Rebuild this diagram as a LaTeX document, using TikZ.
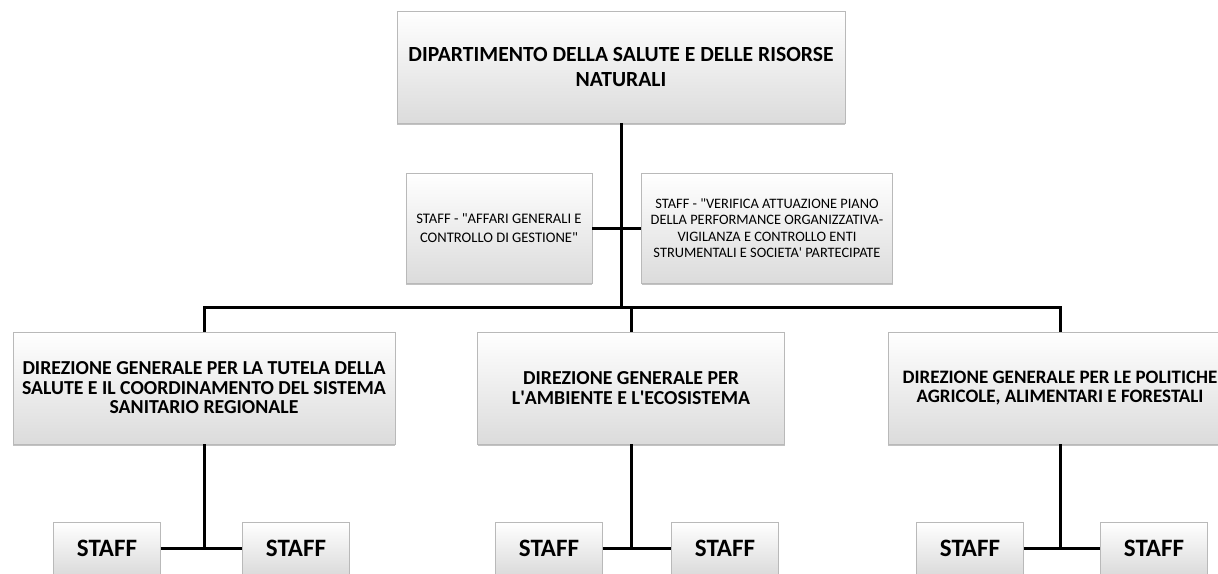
\documentclass[tikz,border=0pt]{standalone}
\usepackage{fontspec}
\setmainfont{Carlito}
\usetikzlibrary{shadows}
\begin{document}
\begin{tikzpicture}[x=1pt,y=-1pt,
wire/.style={line width=3pt,black},
orgblock/.style={rectangle,draw=gray!55,line width=0.6pt,top color=white,bottom color=gray!28,
  drop shadow={shadow xshift=0pt,shadow yshift=-2pt,fill=gray!80,opacity=.6},
  align=center,inner sep=4pt,font=\bfseries},
dirblock/.style={orgblock,minimum height=112pt,font=\bfseries\fontsize{19.8}{19.5}\selectfont},
staffblock/.style={orgblock,minimum height=110pt},
smallstaff/.style={orgblock,minimum width=107pt,minimum height=52pt,font=\bfseries\fontsize{25}{28}\selectfont}]
\useasboundingbox (0,0) rectangle (1218,573);
\clip (0,0) rectangle (1218,573);
% top level
\draw (621,67) node[orgblock,minimum width=448pt,minimum height=112pt,font=\bfseries\fontsize{21.6}{25}\selectfont] (dip)
  {DIPARTIMENTO DELLA SALUTE E DELLE RISORSE\\NATURALI};
% staff of the department
\draw (499,228) node[staffblock,minimum width=186pt,font=\fontsize{14.6}{19}\selectfont] (stA)
  {STAFF - \textquotedbl AFFARI GENERALI E\\CONTROLLO DI GESTIONE\textquotedbl};
\draw (767,228) node[staffblock,minimum width=251pt,font=\fontsize{14.4}{16.5}\selectfont] (stB)
  {STAFF - \textquotedbl VERIFICA ATTUAZIONE PIANO\\DELLA PERFORMANCE ORGANIZZATIVA-\\VIGILANZA E CONTROLLO ENTI\\STRUMENTALI E SOCIETA\textquotesingle{} PARTECIPATE};
% directorates
\draw (204,388) node[dirblock,minimum width=382pt] (dirA)
  {DIREZIONE GENERALE PER LA TUTELA DELLA\\SALUTE E IL COORDINAMENTO DEL SISTEMA\\SANITARIO REGIONALE};
\draw (631,388) node[dirblock,minimum width=307pt] (dirB)
  {DIREZIONE GENERALE PER\\L\textquotesingle AMBIENTE E L\textquotesingle ECOSISTEMA};
\draw (1060,388) node[dirblock,minimum width=344pt,font=\bfseries\fontsize{19}{19.5}\selectfont] (dirC)
  {DIREZIONE GENERALE PER LE POLITICHE\\AGRICOLE, ALIMENTARI E FORESTALI};
% staff of the directorates
\draw (107,548) node[smallstaff] (sA1) {STAFF};
\draw (296,548) node[smallstaff] (sA2) {STAFF};
\draw (549,548) node[smallstaff] (sB1) {STAFF};
\draw (725,548) node[smallstaff] (sB2) {STAFF};
\draw (970,548) node[smallstaff] (sC1) {STAFF};
\draw (1154,548) node[smallstaff] (sC2) {STAFF};
\coordinate (bus) at (621,307);
\draw[wire] (dip.south) -- (bus);
\draw[wire] (stA.east) -- (stB.west);
\draw[wire] (dirA.north) |- (bus) -| (dirC.north);
\draw[wire] (dirB.north) -- (dirB.north |- bus);
\draw[wire] (dirA.south) -- (dirA.south |- sA1.east);
\draw[wire] (sA1.east) -- (sA2.west);
\draw[wire] (dirB.south) -- (dirB.south |- sB1.east);
\draw[wire] (sB1.east) -- (sB2.west);
\draw[wire] (dirC.south) -- (dirC.south |- sC1.east);
\draw[wire] (sC1.east) -- (sC2.west);
\end{tikzpicture}
\end{document}
